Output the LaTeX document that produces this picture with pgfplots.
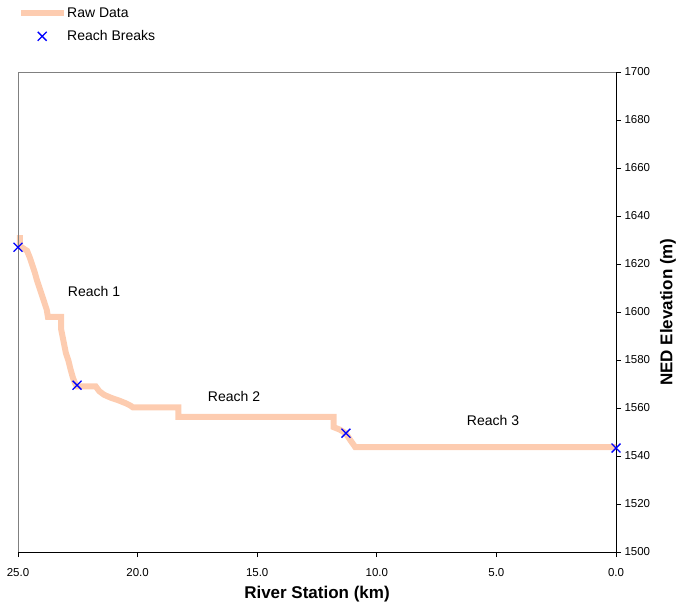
\documentclass[border=0pt]{standalone}
\usepackage{fontspec}
\setmainfont{Liberation Sans}
\usepackage{pgfplots}
\pgfplotsset{compat=1.18}
\definecolor{rawc}{RGB}{253,204,176}
\definecolor{framegray}{RGB}{128,128,128}
\pgfplotsset{
  rawleg/.style={legend image code/.code={\draw[##1] (0pt,0pt) -- (43pt,0pt);}},
  markleg/.style={legend image code/.code={\draw[##1] plot coordinates {(21pt,0pt)};}},
}
\begin{document}
\begin{tikzpicture}
\begin{axis}[
  scale only axis, width=598pt, height=480pt,
  x dir=reverse, xmin=0, xmax=25, ymin=1500, ymax=1700,
  axis x line*=bottom, axis y line*=right,
  axis line style={-, black, line width=0.8pt},
  xtick={0,5,...,25}, ytick={1500,1520,...,1700},
  tick align=outside, major tick length=5pt,
  tick style={black, line width=0.8pt},
  x tick label style={yshift=-8pt, /pgf/number format/fixed, /pgf/number format/fixed zerofill, /pgf/number format/precision=1},
  y tick label style={/pgf/number format/1000 sep={}},
  /pgf/number format/assume math mode=true,
  ticklabel style={font=\fontsize{11.5pt}{13pt}\selectfont},
  xlabel={River Station (km)}, ylabel={NED Elevation (m)},
  label style={font=\fontsize{17pt}{20pt}\selectfont\bfseries},
  xlabel style={yshift=-3pt},
  ylabel style={yshift=-3pt},
  clip=false,
  legend style={at={(0,1.135)}, anchor=north west, draw=none, fill=none,
    font=\fontsize{14pt}{16pt}\selectfont, row sep=12pt, inner sep=0pt,
    nodes={inner sep=0pt},
    cells={anchor=west}},
]
\addplot[rawc, line width=6pt, rawleg] coordinates {
(24.92,1632)(24.92,1627.5)(24.7,1626)(24.62,1625.5)(24.5,1622.5)(24.4,1619.5)(24.3,1616.5)(24.2,1613)(24.1,1610)(24.0,1607)(23.9,1604)(23.8,1601)(23.75,1598)(23.2,1598)(23.2,1593)(23.1,1588)(23.0,1583)(22.9,1580)(22.8,1576)(22.7,1572.5)(22.6,1570)(22.53,1569)(21.75,1569)(21.6,1567)(21.4,1565.5)(21.1,1564.2)(20.8,1563.2)(20.5,1562)(20.3,1561)(20.2,1560.3)(18.3,1560.3)(18.3,1556.3)(11.8,1556.3)(11.8,1552)(11.55,1551)(11.3,1549.5)(11.1,1546.5)(10.9,1543.7)(0,1543.7)
};
\addlegendentry{Raw Data}
\addplot[only marks, mark=x, mark size=6.3pt, blue, line width=1.3pt, markleg] coordinates {
(25,1627)(22.53,1569.5)(11.29,1549.5)(0,1543.3)
};
\addlegendentry{Reach Breaks}
\node[font=\fontsize{14pt}{16pt}\selectfont] at (axis cs:21.82,1608.75) {Reach 1};
\node[font=\fontsize{14pt}{16pt}\selectfont] at (axis cs:15.97,1565) {Reach 2};
\node[font=\fontsize{14pt}{16pt}\selectfont] at (axis cs:5.14,1554.6) {Reach 3};
\draw[framegray, line width=0.8pt] (axis cs:25,1500) -- (axis cs:25,1700) -- (axis cs:0,1700);
\coordinate (bl) at (axis cs:25,1500);
\coordinate (tr) at (axis cs:0,1700);
\end{axis}
\pgfresetboundingbox
\path[use as bounding box] ([shift={(-18pt,-53pt)}]bl) rectangle ([shift={(60pt,72pt)}]tr);
\end{tikzpicture}
\end{document}
